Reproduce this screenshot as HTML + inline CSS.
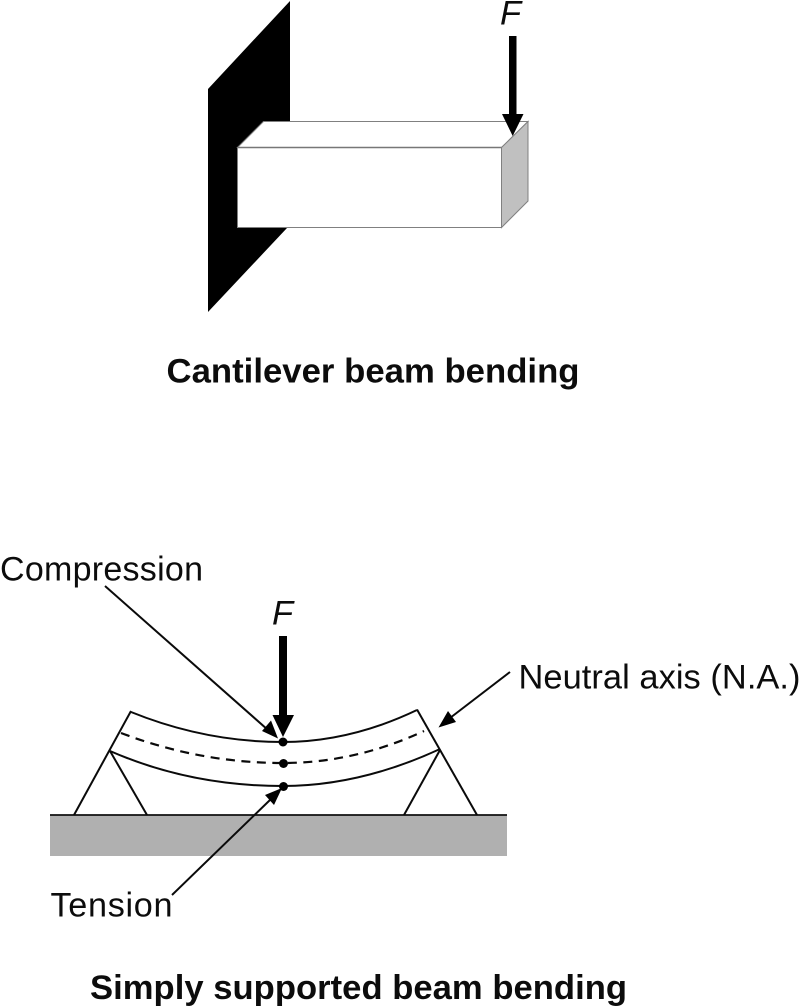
<!DOCTYPE html>
<html>
<head>
<meta charset="utf-8">
<style>
html,body{margin:0;padding:0;background:#fff;}
svg{display:block;}
text{font-family:"Liberation Sans",sans-serif;fill:#0c0c0c;}
</style>
</head>
<body>
<svg width="803" height="1007" viewBox="0 0 803 1007" xmlns="http://www.w3.org/2000/svg">
  <rect width="803" height="1007" fill="#fff"/>
  <!-- Cantilever -->
  <polygon points="208,89 290,1 290,226 287,228 208,312" fill="#000"/>
  <polygon points="237.5,147.5 263.5,121.5 528,121.5 501.5,147.5" fill="#fff" stroke="#808080" stroke-width="1"/>
  <rect x="237.5" y="147.5" width="264" height="80" fill="#fff" stroke="#808080" stroke-width="1"/>
  <line x1="237.5" y1="147.5" x2="501.5" y2="147.5" stroke="#777" stroke-width="1.5"/>
  <polygon points="501.5,147.5 528,121.5 528,201 501.5,227.5" fill="#c0c0c0" stroke="#808080" stroke-width="1"/>
  <rect x="509" y="36" width="7.5" height="80" fill="#000"/>
  <polygon points="502,114 523.5,114 512.7,136" fill="#000"/>
  <text x="500" y="24.5" font-size="34.5" font-style="italic">F</text>
  <text x="166.5" y="382.5" font-size="34.7" font-weight="bold" textLength="413" lengthAdjust="spacing">Cantilever beam bending</text>

  <!-- Ground -->
  <rect x="50" y="815" width="457" height="41" fill="#b0b0b0"/>
  <line x1="50" y1="815" x2="507" y2="815" stroke="#111" stroke-width="1.8"/>

  <!-- Supports -->
  <g fill="none" stroke="#0a0a0a" stroke-width="2">
    <line x1="131" y1="711" x2="74" y2="815"/>
    <line x1="110" y1="751" x2="147" y2="815"/>
    <line x1="417" y1="709.5" x2="477" y2="815"/>
    <line x1="440" y1="750" x2="404" y2="815"/>
    <path d="M131,712 Q205,742 283,742 Q350,742 417,710"/>
    <path d="M110,751 Q190,786 283,786 Q360,786 440,749"/>
    <path d="M121,733 Q200,763 283,763 Q355,763 424,731" stroke-dasharray="9,6.5" stroke-width="2.2"/>
  </g>
  <circle cx="283" cy="742" r="4.5" fill="#000"/>
  <circle cx="283.5" cy="763.5" r="4.5" fill="#000"/>
  <circle cx="283.5" cy="786.5" r="4.5" fill="#000"/>

  <!-- Force -->
  <rect x="279" y="636" width="8" height="80" fill="#000"/>
  <polygon points="272.5,715 294,715 283,737" fill="#000"/>
  <text x="272" y="624.5" font-size="34.5" font-style="italic">F</text>

  <!-- Leader arrows -->
  <g stroke="#0a0a0a" stroke-width="2" fill="none">
    <line x1="105" y1="586" x2="268" y2="730"/>
    <line x1="510" y1="672" x2="450" y2="718"/>
    <line x1="172" y1="895" x2="271" y2="799"/>
  </g>
  <polygon points="278,738.5 262,731 271,720.5" fill="#000"/>
  <polygon points="438.5,727.5 448,711 456,722" fill="#000"/>
  <polygon points="282,788 274,805 265,795" fill="#000"/>

  <!-- Labels -->
  <text x="0" y="580.5" font-size="34" textLength="203" lengthAdjust="spacing">Compression</text>
  <text x="518.5" y="688.5" font-size="34.4" textLength="282" lengthAdjust="spacing">Neutral axis (N.A.)</text>
  <text x="50.5" y="916.5" font-size="34.2" textLength="122" lengthAdjust="spacing">Tension</text>
  <text x="90" y="999" font-size="34.6" font-weight="bold" textLength="537" lengthAdjust="spacing">Simply supported beam bending</text>
</svg>
</body>
</html>
